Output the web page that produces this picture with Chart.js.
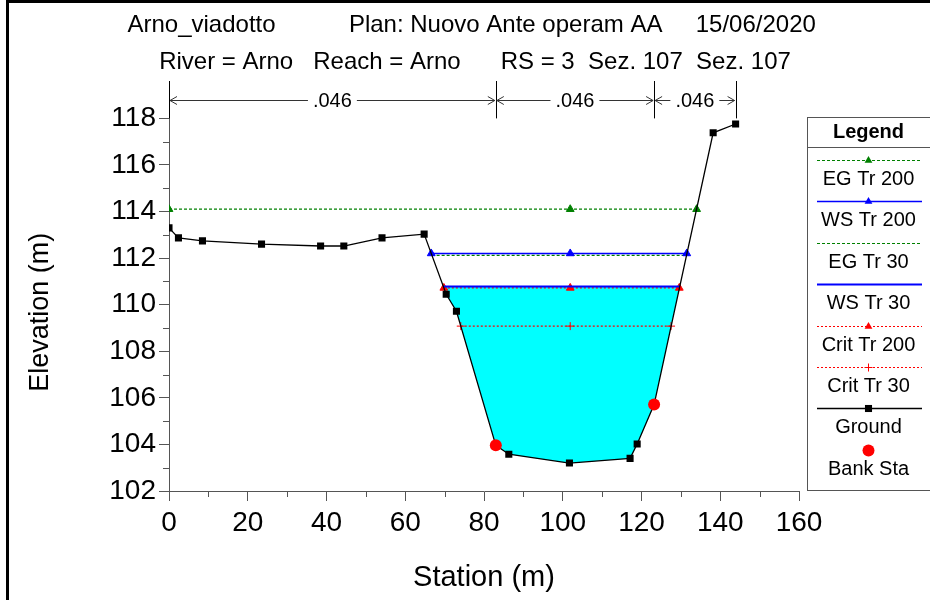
<!DOCTYPE html>
<html>
<head>
<meta charset="utf-8">
<title>Arno_viadotto - Sez. 107</title>
<script src="https://cdn.jsdelivr.net/npm/chart.js@4.4.1/dist/chart.umd.min.js"></script>
<style>
  html, body { margin: 0; padding: 0; background: #fff; }
  #wrap { position: relative; width: 930px; height: 600px; overflow: hidden; }
  #xsChart { display: block; }
  #frame {
    position: absolute; left: 6px; top: 0; right: 0; bottom: 0;
    border-top: 3px solid #000; border-left: 3px solid #000;
    pointer-events: none;
  }
</style>
</head>
<body>
<div id="wrap">
  <canvas id="xsChart" width="930" height="600"></canvas>
  <div id="frame"></div>
</div>
<script>
// Cross section Sez. 107 (RS = 3), station / elevation in m
const groundStation = [0, 2.4, 8.5, 23.5, 38.5, 44.4, 54.1, 64.8, 70.4, 73.0, 83.0, 86.3, 101.7, 117.1, 118.9, 123.2, 138.2, 143.9];
const groundElev = [113.30, 112.87, 112.74, 112.60, 112.52, 112.52, 112.87, 113.03, 110.45, 109.72, 103.96, 103.58, 103.20, 103.40, 104.02, 105.71, 117.38, 117.76];

const bankStation = [83.0, 123.2];
const bankElev = [103.96, 105.71];

// water surface profiles
const profileLabels = ['EG Tr 200', 'WS Tr 200', 'EG Tr 30', 'WS Tr 30', 'Crit Tr 200', 'Crit Tr 30'];
const profileElev = [114.10, 112.20, 112.12, 110.78, 110.72, 109.08];
const profileLeft = [0, 66.6, 66.7, 69.7, 69.8, 74.1];
const profileMid = [101.9, 101.9, null, null, 101.9, 101.9];
const profileRight = [134.0, 131.5, 131.4, 129.7, 129.6, 127.5];

// Manning's n zones
const nBounds = [0, 83.0, 123.2, 143.9];
const nValues = ['.046', '.046', '.046'];

// axis ticks
const xTicks = [0, 20, 40, 60, 80, 100, 120, 140, 160];
const xMinor = [10, 30, 50, 70, 90, 110, 130, 150];
const yTicks = [102, 104, 106, 108, 110, 112, 114, 116, 118];
const yMinor = [103, 105, 107, 109, 111, 113, 115, 117];

const FONT = "'Liberation Sans', Arial, Helvetica, sans-serif";
const AXIS_COLOR = '#555';

const profileStyle = [
    { color: '#008000', dash: [3, 2], width: 1.2, marker: 'triangle', radius: 4.5 },
    { color: '#0000ff', dash: [], width: 1.5, marker: 'triangle', radius: 4.5 },
    { color: '#008000', dash: [3, 2], width: 1.2, marker: null, radius: 0 },
    { color: '#0000ff', dash: [], width: 2, marker: null, radius: 0 },
    { color: '#ff0000', dash: [2, 2], width: 1.2, marker: 'triangle', radius: 4.5 },
    { color: '#ff0000', dash: [2, 2], width: 1.2, marker: 'cross', radius: 4 }
];
const groundStyle = { color: '#000', dash: [], width: 1.3, marker: 'rect', radius: 5 };
const bankStyle = { color: '#ff0000', dash: null, width: 0, marker: 'circle', radius: 6 };

const profileSets = profileLabels.map(function(label, i) {
    const st = profileStyle[i];
    const pts = [{ x: profileLeft[i], y: profileElev[i] }];
    if (profileMid[i] !== null) pts.push({ x: profileMid[i], y: profileElev[i] });
    pts.push({ x: profileRight[i], y: profileElev[i] });
    return {
        label: label,
        data: pts,
        showLine: true,
        borderColor: st.color,
        backgroundColor: st.color,
        borderWidth: st.width,
        borderDash: st.dash,
        pointStyle: st.marker || 'circle',
        pointRadius: st.radius,
        pointBorderWidth: 1,
        pointBorderColor: st.color,
        pointBackgroundColor: st.color,
        order: 2
    };
});

// wetted area below WS Tr 30
const wsIdx = profileLabels.indexOf('WS Tr 30');
const waterPoly = [{ x: profileLeft[wsIdx], y: profileElev[wsIdx] }]
    .concat(groundStation
        .map((x, i) => ({ x: x, y: groundElev[i] }))
        .filter(p => p.x > profileLeft[wsIdx] && p.x < profileRight[wsIdx]))
    .concat([{ x: profileRight[wsIdx], y: profileElev[wsIdx] }]);

const waterSet = {
    label: 'water',
    data: waterPoly,
    showLine: true,
    fill: 'shape',
    backgroundColor: '#00ffff',
    borderColor: 'rgba(0,0,0,0)',
    borderWidth: 0,
    pointRadius: 0,
    order: 9
};

const groundSet = {
    label: 'Ground',
    data: groundStation.map((x, i) => ({ x: x, y: groundElev[i] })),
    showLine: true,
    borderColor: groundStyle.color,
    backgroundColor: groundStyle.color,
    borderWidth: groundStyle.width,
    pointStyle: groundStyle.marker,
    pointRadius: groundStyle.radius,
    pointBorderWidth: 0,
    pointBackgroundColor: groundStyle.color,
    order: 1
};

const bankSet = {
    label: 'Bank Sta',
    data: bankStation.map((x, i) => ({ x: x, y: bankElev[i] })),
    showLine: false,
    borderColor: bankStyle.color,
    backgroundColor: bankStyle.color,
    pointStyle: bankStyle.marker,
    pointRadius: bankStyle.radius,
    pointBorderWidth: 0,
    pointBackgroundColor: bankStyle.color,
    order: 0
};

const legendLabels = profileLabels.concat(['Ground', 'Bank Sta']);
const legendStyles = profileStyle.concat([groundStyle, bankStyle]);

// short ticks at the odd values
const minorTicks = {
    id: 'minorTicks',
    afterDraw(chart) {
        const ctx = chart.ctx;
        const xs = chart.scales.x, ys = chart.scales.y;
        const area = chart.chartArea;
        ctx.save();
        ctx.strokeStyle = AXIS_COLOR;
        ctx.lineWidth = 1;
        ctx.beginPath();
        xMinor.forEach(v => {
            const px = Math.round(xs.getPixelForValue(v)) + 0.5;
            ctx.moveTo(px, area.bottom);
            ctx.lineTo(px, area.bottom + 6);
        });
        yMinor.forEach(v => {
            const py = Math.round(ys.getPixelForValue(v)) + 0.5;
            ctx.moveTo(area.left - 6, py);
            ctx.lineTo(area.left, py);
        });
        ctx.stroke();
        ctx.restore();
    }
};

// Manning's n bars above the plot
const manningBars = {
    id: 'manningBars',
    afterDraw(chart) {
        const ctx = chart.ctx;
        const xs = chart.scales.x;
        const top = chart.chartArea.top;
        const yLine = 100;
        ctx.save();
        ctx.strokeStyle = '#000';
        ctx.lineWidth = 1;
        ctx.beginPath();
        nBounds.forEach(b => {
            const px = Math.round(xs.getPixelForValue(b)) + 0.5;
            ctx.moveTo(px, 81);
            ctx.lineTo(px, top);
        });
        ctx.stroke();

        ctx.font = '20px ' + FONT;
        ctx.textAlign = 'center';
        ctx.textBaseline = 'middle';
        ctx.fillStyle = '#000';
        ctx.strokeStyle = '#333';
        for (let i = 0; i < nValues.length; i++) {
            const x1 = xs.getPixelForValue(nBounds[i]) + 1;
            const x2 = xs.getPixelForValue(nBounds[i + 1]) - 1;
            const xc = (x1 + x2) / 2;
            const tw = ctx.measureText(nValues[i]).width;
            ctx.fillText(nValues[i], xc, yLine + 1);
            ctx.beginPath();
            ctx.moveTo(x1, yLine + 0.5);
            ctx.lineTo(xc - tw / 2 - 5, yLine + 0.5);
            ctx.moveTo(xc + tw / 2 + 5, yLine + 0.5);
            ctx.lineTo(x2, yLine + 0.5);
            // open arrow heads
            ctx.moveTo(x1 + 7, yLine - 3.5);
            ctx.lineTo(x1, yLine + 0.5);
            ctx.lineTo(x1 + 7, yLine + 4.5);
            ctx.moveTo(x2 - 7, yLine - 3.5);
            ctx.lineTo(x2, yLine + 0.5);
            ctx.lineTo(x2 - 7, yLine + 4.5);
            ctx.stroke();
        }
        ctx.restore();
    }
};

// HEC-RAS style legend box at the right
const legendBox = {
    id: 'legendBox',
    afterDraw(chart) {
        const ctx = chart.ctx;
        const left = chart.chartArea.right + 8.5;
        const top = 117.5, bottom = 490.5, right = chart.width + 5;
        const cx = 868.5;
        ctx.save();
        ctx.strokeStyle = AXIS_COLOR;
        ctx.lineWidth = 1;
        ctx.strokeRect(left, top, right - left, bottom - top);
        ctx.beginPath();
        ctx.moveTo(left, 147.5);
        ctx.lineTo(right, 147.5);
        ctx.stroke();

        ctx.fillStyle = '#000';
        ctx.textAlign = 'center';
        ctx.textBaseline = 'middle';
        ctx.font = 'bold 20px ' + FONT;
        ctx.fillText('Legend', cx, 132);

        legendLabels.forEach((label, i) => {
            const st = legendStyles[i];
            const ly = Math.round(160 + 41.4 * i) + 0.5;
            if (st.dash) {
                ctx.save();
                ctx.strokeStyle = st.color;
                ctx.lineWidth = st.width;
                ctx.setLineDash(st.dash);
                ctx.beginPath();
                ctx.moveTo(817, ly);
                ctx.lineTo(922, ly);
                ctx.stroke();
                ctx.restore();
            }
            if (st.marker) {
                ctx.save();
                ctx.setLineDash([]);
                ctx.fillStyle = st.color;
                ctx.strokeStyle = st.color;
                ctx.lineWidth = 1;
                Chart.helpers.drawPoint(ctx, {
                    pointStyle: st.marker,
                    rotation: 0,
                    radius: st.radius,
                    borderWidth: st.marker === 'cross' ? 1 : 0
                }, cx, ly);
                ctx.restore();
            }
            ctx.fillStyle = '#000';
            ctx.font = '20px ' + FONT;
            ctx.fillText(label, cx, ly + 18.5);
        });
        ctx.restore();
    }
};

document.addEventListener('DOMContentLoaded', function() {
    const canvas = document.getElementById('xsChart');

    new Chart(canvas, {
        type: 'scatter',
        data: {
            datasets: [waterSet].concat(profileSets, [groundSet, bankSet])
        },
        options: {
            responsive: false,
            animation: false,
            layout: {
                padding: 0
            },
            plugins: {
                legend: { display: false },
                tooltip: { enabled: false },
                title: {
                    display: true,
                    text: [
                        '  Arno_viadotto           Plan: Nuovo Ante operam AA     15/06/2020',
                        '   River = Arno   Reach = Arno      RS = 3  Sez. 107  Sez. 107'
                    ],
                    color: '#000',
                    font: { family: FONT, size: 24, weight: 'normal', lineHeight: 1.55 },
                    padding: { top: 7, bottom: 37 }
                }
            },
            scales: {
                x: {
                    type: 'linear',
                    min: 0,
                    max: 160,
                    afterBuildTicks: axis => { axis.ticks = xTicks.map(v => ({ value: v })); },
                    afterFit: scale => { scale.height = 109; },
                    ticks: {
                        color: '#000',
                        font: { family: FONT, size: 28 },
                        padding: 5,
                        maxRotation: 0,
                        autoSkip: false
                    },
                    grid: { drawOnChartArea: false, tickLength: 10, color: AXIS_COLOR },
                    border: { color: AXIS_COLOR, width: 1 },
                    title: {
                        display: true,
                        text: 'Station (m)',
                        color: '#000',
                        font: { family: FONT, size: 29 },
                        padding: { top: 0, bottom: 5 }
                    }
                },
                y: {
                    type: 'linear',
                    min: 102,
                    max: 118,
                    afterBuildTicks: axis => { axis.ticks = yTicks.map(v => ({ value: v })); },
                    afterFit: scale => { scale.width = 169; },
                    ticks: {
                        color: '#000',
                        font: { family: FONT, size: 28 },
                        padding: 3,
                        autoSkip: false
                    },
                    grid: { drawOnChartArea: false, tickLength: 10, color: AXIS_COLOR },
                    border: { color: AXIS_COLOR, width: 1 },
                    title: {
                        display: true,
                        text: 'Elevation (m)  ',
                        color: '#000',
                        font: { family: FONT, size: 27 },
                        padding: { top: 24, bottom: 0 }
                    }
                },
                // empty strip on the right that holds the legend box
                legendStrip: {
                    type: 'linear',
                    position: 'right',
                    min: 0,
                    max: 1,
                    afterFit: scale => { scale.width = 131; },
                    ticks: { display: false },
                    grid: { display: false, drawTicks: false },
                    border: { display: false }
                }
            }
        },
        plugins: [minorTicks, manningBars, legendBox]
    });
});
</script>
</body>
</html>
